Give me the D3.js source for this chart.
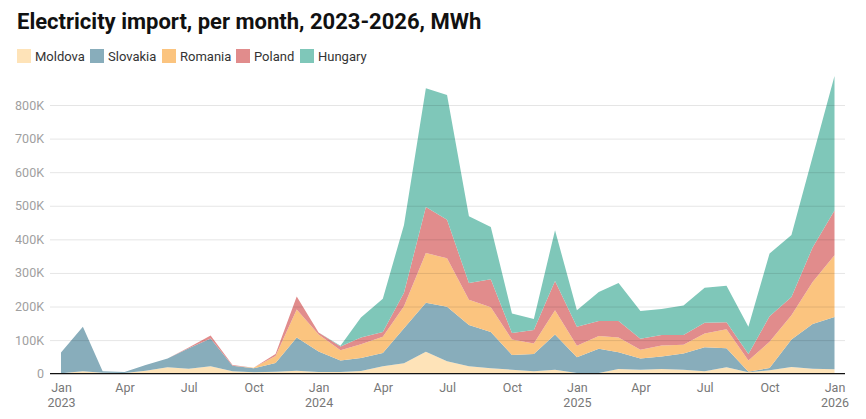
<!DOCTYPE html>
<html>
<head>
<meta charset="utf-8">
<script src="https://cdn.jsdelivr.net/npm/d3@7.9.0/dist/d3.min.js"></script>
<style>
  body { margin: 0; background: #fff; font-family: Roboto, sans-serif; }
  svg { display: block; }
</style>
</head>
<body>
<svg id="chart" width="866" height="419"></svg>
<script>
// monthly values, thousand MWh, Jan 2023 .. Jan 2026
const countries = ['Moldova', 'Slovakia', 'Romania', 'Poland', 'Hungary'];
const colors = ['#fee3b8', '#88adbb', '#fbc47f', '#e18c8c', '#7fc7b9'];

const moldova  = [1, 7, 3, 2, 9, 19, 15, 22, 7, 4, 6, 9, 5, 5, 8, 22, 31, 65, 37, 22, 16, 12, 7, 12, 2, 2, 14, 12, 14, 12, 7, 19, 4, 10, 20, 15, 13];
const slovakia = [62, 133, 4, 3, 17, 26, 61, 83, 17, 12, 26, 99, 61, 34, 39, 40, 104, 146, 162, 123, 108, 44, 52, 105, 47, 72, 50, 33, 37, 48, 72, 57, 2, 7, 82, 133, 156];
const romania  = [0, 0, 0, 0, 0, 0, 0, 0, 0, 2, 21, 83, 51, 31, 41, 48, 66, 148, 145, 75, 74, 46, 31, 72, 34, 38, 44, 26, 33, 26, 41, 56, 33, 78, 72, 125, 184];
const poland   = [0, 0, 0, 0, 0, 0, 2, 9, 2, 0, 6, 39, 6, 11, 20, 14, 40, 137, 114, 50, 83, 19, 40, 87, 57, 45, 49, 33, 31, 29, 32, 21, 20, 76, 54, 103, 133];
const hungary  = [0, 0, 0, 0, 0, 0, 0, 0, 0, 0, 0, 0, 0, 2, 59, 99, 202, 354, 372, 199, 156, 58, 33, 151, 49, 86, 113, 83, 78, 88, 104, 109, 81, 187, 185, 270, 400];

const yTicks = [0, 100, 200, 300, 400, 500, 600, 700, 800];
const monthNames = ['Jan', 'Feb', 'Mar', 'Apr', 'May', 'Jun', 'Jul', 'Aug', 'Sep', 'Oct', 'Nov', 'Dec'];

const series = [moldova, slovakia, romania, poland, hungary];
const rows = moldova.map((_, i) => {
  const r = { date: new Date(2023, i, 1) };
  countries.forEach((c, k) => { r[c] = series[k][i]; });
  return r;
});

const svg = d3.select('#chart');

svg.append('text')
  .attr('x', 17)
  .attr('y', 29)
  .style('font-size', '22px')
  .style('font-weight', 700)
  .style('fill', '#111')
  .text('Electricity import, per month, 2023-2026, MWh');

// legend
const legendX = [17, 90, 162, 236, 300];
const legend = svg.append('g').attr('class', 'legend');
countries.forEach((c, k) => {
  const g = legend.append('g').attr('transform', `translate(${legendX[k]}, 49)`);
  g.append('rect').attr('width', 14).attr('height', 14).attr('fill', colors[k]);
  g.append('text')
    .attr('x', 18)
    .attr('y', 11.5)
    .style('font-size', '13px')
    .style('fill', '#333')
    .text(c);
});

const x = d3.scaleTime()
  .domain([new Date(2023, 0, 1), new Date(2026, 0, 1)])
  .range([61, 834.5]);

const y = d3.scaleLinear()
  .domain([0, 800])
  .range([373.7, 105]);

const stack = d3.stack().keys(countries);
const stacked = stack(rows);

const area = d3.area()
  .x((d) => x(d.data.date))
  .y0((d) => y(d[0]))
  .y1((d) => y(d[1]));

svg.append('g')
  .selectAll('path')
  .data(stacked)
  .join('path')
  .attr('fill', (d, i) => colors[i])
  .attr('d', area);

// gridlines on top, faint
const grid = svg.append('g')
  .attr('transform', 'translate(50, 0)')
  .call(d3.axisLeft(y).tickValues(yTicks.slice(1)).tickSize(-795).tickFormat(''));
grid.select('.domain').remove();
grid.selectAll('line').attr('stroke', 'rgba(0,0,0,0.1)').attr('stroke-width', 1);

// y labels
const yAxis = svg.append('g')
  .attr('transform', 'translate(50, 0)')
  .call(d3.axisLeft(y).tickValues(yTicks).tickSize(0).tickPadding(6)
    .tickFormat((d) => (d === 0 ? '0' : d + 'K')));
yAxis.select('.domain').remove();
yAxis.selectAll('text')
  .style('font-family', 'Roboto, sans-serif')
  .style('font-size', '12.5px')
  .attr('fill', '#a0a0a0');

// baseline
svg.append('line')
  .attr('x1', 50).attr('x2', 845)
  .attr('y1', y(0)).attr('y2', y(0))
  .attr('stroke', '#111')
  .attr('stroke-width', 1.2);

// x labels
const xAxis = svg.append('g')
  .attr('transform', `translate(0, ${y(0)})`)
  .call(d3.axisBottom(x).ticks(d3.timeMonth.every(3)).tickSize(0).tickPadding(9)
    .tickFormat(''));
xAxis.select('.domain').remove();
xAxis.selectAll('.tick text').each(function (d) {
  const t = d3.select(this)
    .style('font-family', 'Roboto, sans-serif')
    .style('font-size', '12.5px')
    .attr('fill', '#777');
  t.append('tspan').attr('x', 0).text(monthNames[d.getMonth()]);
  if (d.getMonth() === 0) {
    t.append('tspan').attr('x', 0).attr('dy', '1.2em').text(d.getFullYear());
  }
});
</script>
</body>
</html>
